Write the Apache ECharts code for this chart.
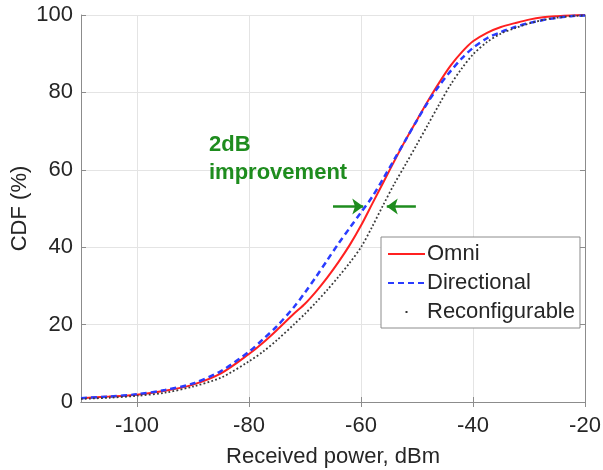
<!DOCTYPE html>
<html>
<head>
<meta charset="utf-8">
<script src="https://cdn.jsdelivr.net/npm/echarts@6/dist/echarts.min.js"></script>
<style>html,body{margin:0;padding:0;background:#fff}#c{width:603px;height:470px}</style>
</head>
<body>
<div id="c"></div>
<script>
// ---- data ----
const omniX = [-110,-105,-100,-95,-90,-85,-80,-77.5,-75,-72,-70,-68,-66,-64,-62,-60,-58,-56,-54,-52,-50,-48,-46,-44,-42,-40,-37.5,-35,-32.5,-30,-27.5,-25,-22.5,-20];
const omniY = [1.0,1.4,1.9,2.9,4.5,7.4,12.4,15.3,18.6,22.8,25.4,28.6,32.2,36.2,40.6,45.6,51.2,56.8,62.4,67.8,72.9,77.9,82.6,86.9,90.4,93.2,95.4,96.9,97.9,98.8,99.4,99.7,99.9,100];

const dirX = [-110,-105,-100,-95,-90,-85,-80,-77.5,-75,-72,-70,-68,-66,-64,-62,-60,-58,-56,-54,-52,-50,-48,-46,-44,-42,-40,-37.5,-35,-32.5,-30,-27.5,-25,-22.5,-20];
const dirY = [1.0,1.4,2.0,3.1,4.8,8.0,13.0,16.2,19.6,24.5,28.3,32.4,36.7,41,45,49,53,57.8,62.8,67.8,72.8,77.6,81.8,85.5,88.8,91.5,94,95.6,96.9,97.9,98.7,99.3,99.7,99.9];

const recX = [-110,-105,-100,-95,-90,-85,-80,-77.5,-75,-72,-70,-68,-66,-64,-62,-60,-58,-56,-54,-52,-50,-48,-46,-44,-42,-40,-37.5,-35,-32.5,-30,-27.5,-25,-22.5,-20];
const recY = [0.8,1.1,1.6,2.4,4.0,6.3,10.5,13.0,16.0,20,22.8,25.8,29,32.4,36,40,45.3,51,56.5,61.5,66.6,71.8,77,82,86.2,89.8,93,95.2,96.6,97.8,98.7,99.3,99.7,99.9];

const seriesNames = ['Omni', 'Directional', 'Reconfigurable'];
const xTicks = [-100, -80, -60, -40, -20];
const yTicks = [0, 20, 40, 60, 80, 100];
const annotationLines = ['2dB', 'improvement'];
const arrowLeft = [[-65, 50.5], [-59.6, 50.5]];
const arrowRight = [[-50.2, 50.5], [-55.4, 50.5]];

// ---- chart ----
const pairs = (xs, ys) => xs.map((x, i) => [x, ys[i]]);
const FONT = "'Liberation Sans', Arial, sans-serif";
const TXT = '#262626';
const AX = '#8c8c8c';
const GREEN = '#1e8c1e';
const DOT_ICON = 'path://M0,0 M14,14 M6,6 h2 v2 h-2 z';

const chart = echarts.init(document.getElementById('c'), null, {renderer: 'canvas'});
const axLine = {show: true, lineStyle: {color: AX, width: 1}};
chart.setOption({
  animation: false,
  backgroundColor: '#fff',
  textStyle: {fontFamily: FONT},
  grid: {left: 81, right: 18, top: 15, bottom: 68, containLabel: false, outerBoundsMode: 'none'},
  xAxis: [{
    type: 'value', min: -110, max: -20, splitNumber: 5,
    name: 'Received power, dBm', nameLocation: 'middle', nameGap: 44, nameMoveOverlap: false,
    nameTextStyle: {fontSize: 22, color: TXT, fontFamily: FONT},
    axisLine: axLine,
    axisTick: {show: true, inside: true, length: 5, lineStyle: {color: AX}, customValues: xTicks},
    axisLabel: {fontSize: 22, color: TXT, margin: 13, fontFamily: FONT, customValues: xTicks},
    splitLine: {show: true, lineStyle: {color: '#e4e4e4', width: 1}}
  }, {
    type: 'value', min: -110, max: -20, position: 'top',
    axisLine: axLine,
    axisTick: {show: true, inside: true, length: 5, lineStyle: {color: AX}, customValues: xTicks},
    axisLabel: {show: false},
    splitLine: {show: false}
  }],
  yAxis: [{
    type: 'value', min: 0, max: 100, interval: 20,
    name: 'CDF (%)', nameLocation: 'middle', nameGap: 50, nameMoveOverlap: false,
    nameTextStyle: {fontSize: 22, color: TXT, fontFamily: FONT},
    axisLine: axLine,
    axisTick: {show: true, inside: true, length: 5, lineStyle: {color: AX}, customValues: yTicks},
    axisLabel: {fontSize: 22, color: TXT, margin: 8, fontFamily: FONT, customValues: yTicks},
    splitLine: {show: true, lineStyle: {color: '#e4e4e4', width: 1}}
  }, {
    type: 'value', min: 0, max: 100, interval: 20, position: 'right',
    axisLine: axLine,
    axisTick: {show: true, inside: true, length: 5, lineStyle: {color: AX}},
    axisLabel: {show: false},
    splitLine: {show: false}
  }],
  legend: {
    data: [
      {name: seriesNames[0], itemStyle: {opacity: 0}},
      {name: seriesNames[1], itemStyle: {opacity: 0}},
      {name: seriesNames[2], icon: DOT_ICON, itemStyle: {color: '#333', opacity: 1}}
    ],
    orient: 'vertical',
    left: 381, top: 237,
    padding: [6, 5, 5, 6],
    itemGap: 7,
    itemWidth: 37, itemHeight: 14,
    backgroundColor: '#fff',
    borderColor: '#8c8c8c', borderWidth: 1, borderRadius: 0,
    textStyle: {fontSize: 22, color: TXT, fontFamily: FONT, padding: [0,0,0,-3]},
    selectedMode: false
  },
  series: [{
    name: seriesNames[0], type: 'line', data: pairs(omniX, omniY),
    showSymbol: false, symbol: 'none', smooth: 0.3,
    lineStyle: {color: '#ff2020', width: 2, type: 'solid'},
    itemStyle: {color: '#ff2020'}, z: 3
  }, {
    name: seriesNames[1], type: 'line', data: pairs(dirX, dirY),
    showSymbol: false, symbol: 'none', smooth: 0.3,
    lineStyle: {color: '#2a3cff', width: 2.5, type: [6, 4]},
    itemStyle: {color: '#2a3cff'}, z: 4
  }, {
    name: seriesNames[2], type: 'line', data: pairs(recX, recY),
    showSymbol: false, symbol: 'none', smooth: 0.3,
    lineStyle: {color: '#3a3a3a', width: 1.8, type: [1.8, 2.2]},
    itemStyle: {color: '#333'}, z: 5
  }, {
    name: 'arrows', type: 'line', data: [], silent: true,
    markLine: {
      silent: true, animation: false,
      symbol: ['none', 'arrow'], symbolSize: [12, 11],
      label: {show: false},
      lineStyle: {color: GREEN, width: 2.5, type: 'solid'},
      data: [
        [{coord: arrowLeft[0]}, {coord: arrowLeft[1]}],
        [{coord: arrowRight[0]}, {coord: arrowRight[1]}]
      ]
    }
  }],
  graphic: [{
    type: 'text', left: 209, top: 131, silent: true, z: 100,
    style: {text: annotationLines.join('\n'), fill: GREEN, font: "bold 22px 'Liberation Sans', Arial, sans-serif", lineHeight: 28}
  }]
});
</script>
</body>
</html>
